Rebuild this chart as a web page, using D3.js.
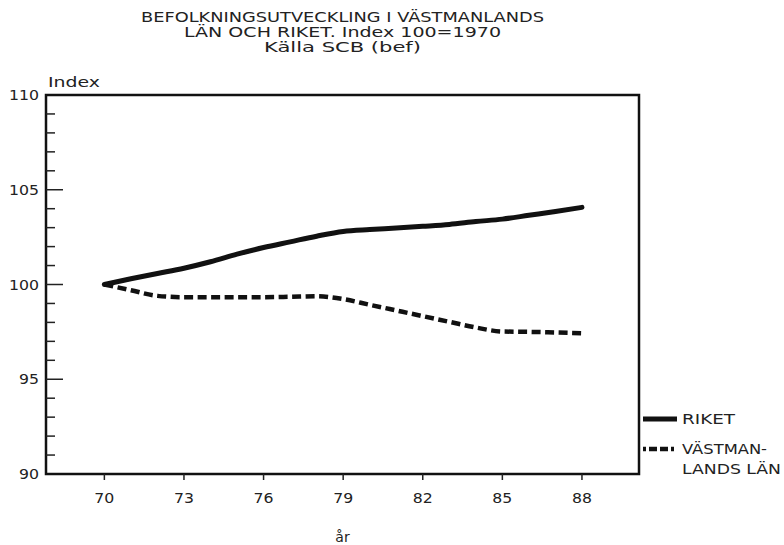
<!DOCTYPE html>
<html>
<head>
<meta charset="utf-8">
<script src="https://cdn.jsdelivr.net/npm/d3@7"></script>
<style>
  body { margin: 0; background: #fff; }
  svg text { font-family: "DejaVu Sans", sans-serif; fill: #222; }
</style>
</head>
<body>
<div id="chart"></div>
<script>
// Population index, 1970 = 100
const years = [70, 71, 72, 73, 74, 75, 76, 77, 78, 79, 80, 81, 82, 83, 84, 85, 86, 87, 88];
const riket = [100, 100.3, 100.58, 100.86, 101.2, 101.6, 101.95, 102.25, 102.55, 102.8,
               102.9, 102.98, 103.07, 103.17, 103.32, 103.45, 103.65, 103.85, 104.07];
const vastmanland = [100, 99.7, 99.4, 99.33, 99.33, 99.33, 99.33, 99.35, 99.38, 99.23,
                     98.93, 98.63, 98.33, 98.03, 97.73, 97.52, 97.5, 97.47, 97.43];
const xTicks = [70, 73, 76, 79, 82, 85, 88];
const yTicks = [90, 95, 100, 105, 110];
const titleLines = ['BEFOLKNINGSUTVECKLING I VÄSTMANLANDS', 'LÄN OCH RIKET. Index 100=1970', 'Källa SCB (bef)'];

const W = 784, H = 545;
const L = 46, R = 639, T = 95, B = 474;

const svg = d3.select('#chart').append('svg').attr('width', W).attr('height', H);

const x = d3.scaleLinear().domain([67.8, 90.15]).range([L, R]);
const y = d3.scaleLinear().domain([90, 110]).range([B, T]);

// Title
const titleSpec = [[17, 403], [32, 317], [47, 157]];
titleLines.forEach((t, i) => {
  svg.append('text')
    .attr('x', (L + R) / 2).attr('y', titleSpec[i][0] + 5)
    .attr('text-anchor', 'middle')
    .attr('textLength', titleSpec[i][1]).attr('lengthAdjust', 'spacingAndGlyphs')
    .style('font-size', '14px').text(t);
});

// Frame
svg.append('rect')
  .attr('x', L).attr('y', T).attr('width', R - L).attr('height', B - T)
  .attr('fill', 'none').attr('stroke', '#111').attr('stroke-width', 2.5);

// Y ticks inside, minor each unit
const yMinor = d3.range(91, 110);
svg.append('g').selectAll('line').data(yMinor).join('line')
  .attr('x1', L).attr('x2', d => L + (d % 5 === 0 ? 17 : 9))
  .attr('y1', d => y(d)).attr('y2', d => y(d))
  .attr('stroke', '#222').attr('stroke-width', 1.5);

svg.append('g').selectAll('text').data(yTicks).join('text')
  .attr('x', 39).attr('y', d => y(d) + 5)
  .attr('text-anchor', 'end')
  .attr('textLength', d => String(d).length * 10).attr('lengthAdjust', 'spacingAndGlyphs')
  .style('font-size', '14px').text(d => d);

// X ticks below
svg.append('g').selectAll('line').data(xTicks).join('line')
  .attr('x1', d => x(d)).attr('x2', d => x(d))
  .attr('y1', B).attr('y2', B + 6)
  .attr('stroke', '#222').attr('stroke-width', 1.5);

svg.append('g').selectAll('text').data(xTicks).join('text')
  .attr('x', d => x(d)).attr('y', 503)
  .attr('text-anchor', 'middle')
  .attr('textLength', 20).attr('lengthAdjust', 'spacingAndGlyphs')
  .style('font-size', '14px').text(d => d);

svg.append('text').attr('x', 48).attr('y', 87)
  .attr('textLength', 52).attr('lengthAdjust', 'spacingAndGlyphs')
  .style('font-size', '14px').text('Index');

svg.append('text').attr('x', (L + R) / 2).attr('y', 542)
  .attr('text-anchor', 'middle').style('font-size', '14px').text('år');

// Lines
const line = d3.line().x((d, i) => x(years[i])).y(d => y(d)).curve(d3.curveMonotoneX);

svg.append('path').datum(riket)
  .attr('d', line).attr('fill', 'none')
  .attr('stroke', '#111').attr('stroke-width', 5).attr('stroke-linecap', 'round');

svg.append('path').datum(vastmanland)
  .attr('d', line).attr('fill', 'none')
  .attr('stroke', '#111').attr('stroke-width', 4.5).attr('stroke-dasharray', '9,4.5');

// Legend
const lg = svg.append('g');
lg.append('line').attr('x1', 643).attr('x2', 677).attr('y1', 419).attr('y2', 419)
  .attr('stroke', '#111').attr('stroke-width', 5);
lg.append('text').attr('x', 682).attr('y', 424)
  .attr('textLength', 53).attr('lengthAdjust', 'spacingAndGlyphs')
  .style('font-size', '14px').text('RIKET');

lg.append('line').attr('x1', 643).attr('x2', 677).attr('y1', 449).attr('y2', 449)
  .attr('stroke', '#111').attr('stroke-width', 4.5).attr('stroke-dasharray', '3,3,8,3,8,3');
lg.append('text').attr('x', 682).attr('y', 454)
  .attr('textLength', 85).attr('lengthAdjust', 'spacingAndGlyphs')
  .style('font-size', '14px').text('VÄSTMAN-');
lg.append('text').attr('x', 682).attr('y', 474)
  .attr('textLength', 99).attr('lengthAdjust', 'spacingAndGlyphs')
  .style('font-size', '14px').text('LANDS LÄN');
</script>
</body>
</html>
